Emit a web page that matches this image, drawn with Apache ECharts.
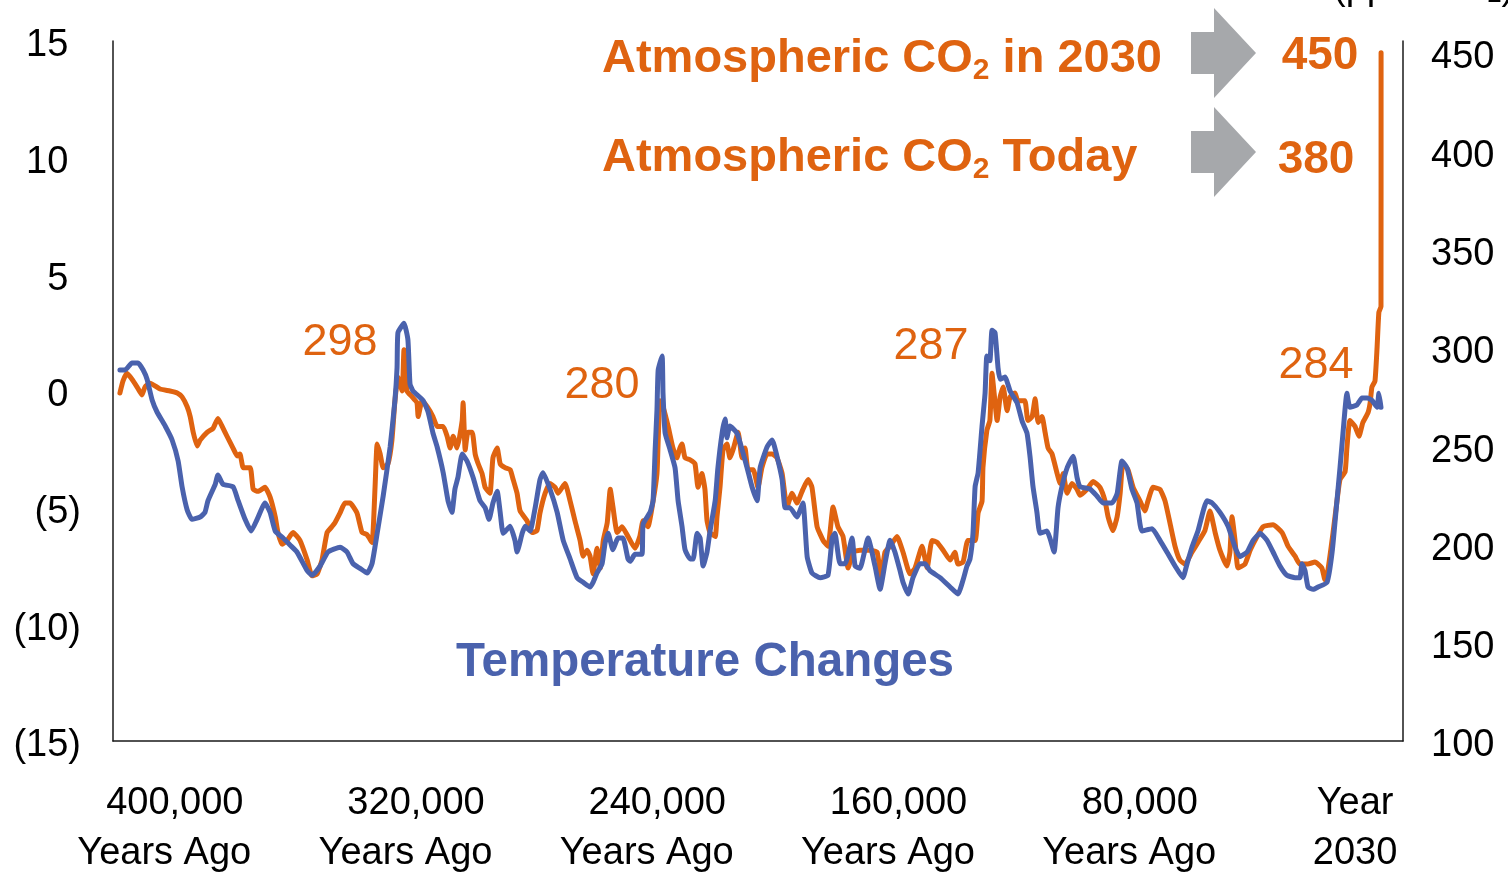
<!DOCTYPE html>
<html>
<head>
<meta charset="utf-8">
<script src="https://cdn.jsdelivr.net/npm/echarts@6/dist/echarts.min.js"></script>
<style>
html,body{margin:0;padding:0;background:#fff;}
#chart{width:1508px;height:872px;}
</style>
</head>
<body>
<div id="chart"></div>
<script>
// Temperature change (°C) — thousands of years ago
const tempAge = [418.2,416.5,414.2,412.2,410.5,409.2,407.5,405.9,403.2,400.9,398.9,397.6,395.9,394.3,391.6,390.0,389.0,386.6,385.7,384.0,380.7,379.0,376.7,374.7,372.7,370.1,368.4,366.7,364.1,361.8,359.5,356.1,354.5,351.8,349.2,345.2,342.9,340.9,338.6,336.2,334.6,332.9,330.9,328.6,327.0,326.3,326.0,324.0,322.7,322.0,321.0,317.7,316.0,314.4,313.0,311.0,309.4,308.1,307.1,306.1,304.7,303.1,301.1,298.8,297.1,295.8,294.5,293.1,292.1,291.1,288.8,287.2,286.5,284.8,283.8,282.2,280.5,278.9,277.9,275.6,273.2,271.2,268.9,266.6,264.6,262.3,261.3,260.0,258.3,257.3,256.3,254.7,253.0,251.4,249.7,249.0,247.4,245.1,244.7,242.4,241.4,240.7,240.1,239.7,238.4,238.1,237.4,235.8,234.1,233.1,231.8,230.8,229.1,228.1,226.8,225.8,224.8,223.5,222.5,220.8,219.9,218.5,217.5,216.9,215.9,213.6,211.9,210.2,208.6,206.9,205.9,203.6,201.9,200.3,198.6,197.6,196.0,193.7,191.7,190.3,188.7,186.0,183.4,182.0,181.1,179.4,177.7,175.4,174.4,172.8,170.1,167.8,166.1,164.5,162.8,161.2,159.5,158.5,156.8,155.2,152.9,151.2,149.6,146.2,142.9,140.3,138.6,137.3,136.3,135.3,134.6,133.6,132.3,131.3,130.7,129.7,129.0,128.0,127.0,126.3,124.7,123.0,120.7,119.0,117.4,116.4,115.4,114.1,113.1,110.8,109.8,108.4,107.1,105.8,104.1,102.1,100.8,99.8,96.5,94.2,92.2,89.2,87.5,85.9,84.2,82.6,80.9,79.3,75.9,73.3,71.0,68.3,65.7,64.3,62.7,60.7,57.7,56.0,53.4,50.7,48.4,46.8,44.4,42.4,40.1,37.8,35.8,33.5,31.2,28.5,26.9,26.2,25.2,24.2,22.5,20.9,17.9,16.2,14.6,13.6,12.6,11.3,10.3,8.0,6.3,4.6,3.0,1.3,0.7,0.0];
const tempVal = [0.9,0.9,1.2,1.2,0.9,0.5,-0.4,-0.9,-1.5,-2.1,-3.0,-4.1,-5.1,-5.5,-5.4,-5.2,-4.7,-4.0,-3.6,-4.0,-4.1,-4.7,-5.5,-6.0,-5.5,-4.8,-5.2,-6.0,-6.3,-6.6,-6.9,-7.7,-7.9,-7.5,-6.9,-6.7,-6.9,-7.4,-7.6,-7.8,-7.4,-6.1,-4.5,-2.4,-0.4,1.0,2.5,2.9,2.2,0.3,0.0,-0.4,-0.9,-1.8,-2.4,-3.5,-4.7,-5.2,-4.2,-3.7,-2.7,-3.0,-3.7,-4.7,-5.0,-5.5,-4.8,-4.3,-5.2,-6.1,-5.8,-6.4,-6.9,-6.1,-5.8,-6.0,-5.0,-3.8,-3.5,-4.2,-5.2,-6.4,-7.2,-8.0,-8.2,-8.4,-8.2,-7.8,-7.4,-6.5,-6.1,-6.8,-6.3,-6.3,-7.2,-7.3,-7.0,-7.0,-5.7,-5.2,-4.7,-2.5,-0.8,0.9,1.5,-0.1,-1.8,-2.5,-3.3,-4.7,-5.8,-6.8,-7.2,-7.2,-6.1,-6.3,-7.5,-6.9,-6.0,-4.7,-3.3,-1.8,-1.2,-2.0,-1.5,-1.8,-2.5,-3.3,-4.1,-4.7,-3.3,-2.4,-2.1,-2.8,-3.8,-5.0,-5.0,-5.4,-4.8,-7.1,-7.8,-8.0,-7.9,-6.3,-6.1,-7.4,-7.4,-6.3,-7.5,-7.6,-6.3,-7.5,-8.5,-7.4,-6.4,-6.9,-7.7,-8.2,-8.7,-8.0,-7.4,-7.4,-7.7,-8.0,-8.4,-8.7,-8.1,-7.5,-7.2,-6.1,-4.1,-3.5,-1.5,-0.1,1.5,1.3,2.6,2.5,1.0,0.5,0.6,0.0,-0.5,-1.3,-1.8,-2.8,-4.1,-5.2,-6.1,-6.0,-6.3,-6.9,-5.0,-4.1,-3.3,-2.8,-3.7,-4.1,-4.2,-4.5,-4.8,-4.8,-4.4,-3.0,-3.3,-4.2,-4.8,-6.0,-5.9,-6.4,-6.9,-7.5,-8.0,-7.4,-6.7,-6.0,-4.7,-4.8,-5.2,-5.8,-6.7,-7.1,-6.9,-6.4,-6.1,-6.4,-6.9,-7.5,-7.9,-8.0,-8.0,-7.4,-7.7,-8.4,-8.5,-8.4,-8.2,-6.9,-4.7,-3.3,-1.8,-0.1,-0.7,-0.6,-0.3,-0.3,-0.4,-0.7,-0.1,-0.7];

// Atmospheric CO2 (ppm) — thousands of years ago (last point = year 2030)
const co2Age = [418.2,417.2,415.9,414.2,412.5,410.9,409.9,408.2,404.9,401.6,399.2,397.6,395.9,394.9,393.9,392.6,391.6,389.3,387.3,385.7,384.3,382.7,380.7,379.3,378.4,377.3,375.0,374.0,372.4,370.1,368.4,366.7,365.8,364.4,362.8,360.8,358.5,356.1,354.5,352.8,351.2,349.5,347.9,346.9,345.2,343.6,341.9,339.6,337.9,336.3,334.6,333.6,332.9,331.9,330.9,329.3,328.0,327.0,326.0,324.6,324.0,323.0,321.3,319.7,319.3,318.0,316.3,314.4,313.0,311.0,309.7,308.7,307.7,306.4,304.7,304.4,303.7,302.8,301.4,300.4,299.4,298.1,297.1,295.5,294.5,293.1,292.1,290.5,288.8,287.8,286.5,285.5,283.2,281.5,279.9,278.9,277.2,275.6,273.9,272.9,270.6,268.9,267.3,265.6,264.6,263.3,262.3,261.3,260.0,258.9,257.9,256.6,255.6,254.7,253.3,251.7,249.7,247.4,245.8,244.7,243.1,241.4,240.1,239.7,239.1,238.1,236.4,234.8,233.5,232.5,231.8,230.8,229.1,227.5,226.5,225.2,224.2,223.5,222.5,220.8,220.2,219.2,218.2,216.9,215.9,214.9,213.2,211.9,210.9,209.9,208.2,206.6,205.3,203.6,201.9,200.3,198.6,197.0,195.3,193.7,191.7,190.0,188.7,187.0,185.0,183.4,181.7,180.1,178.4,176.7,175.1,172.8,169.5,167.1,165.8,164.5,162.8,160.5,158.5,156.2,154.5,152.2,150.5,148.9,147.2,145.2,142.9,141.3,140.3,138.6,137.0,134.6,133.6,132.3,132.0,130.7,129.7,129.0,128.3,127.3,126.3,125.3,124.0,123.0,121.4,120.4,118.1,117.1,115.7,114.7,113.7,112.4,111.4,110.4,109.1,107.4,106.4,105.4,104.1,102.5,100.8,99.8,97.5,95.5,93.2,91.5,90.5,88.9,87.5,86.5,85.6,83.9,82.2,79.9,78.3,77.3,75.6,73.3,71.6,70.0,68.3,66.7,65.0,62.7,60.7,58.4,56.7,55.0,53.4,51.1,50.1,49.4,48.4,47.4,45.1,43.4,41.1,39.1,35.8,32.8,30.8,28.5,26.9,24.3,21.9,19.6,18.6,17.6,15.9,14.6,13.6,11.9,11.3,10.3,8.6,7.3,6.0,4.3,3.6,3.0,2.0,1.3,0.7,0.0,-0.03];
const co2Val = [277,283,287,284,280,276,280,282,279,278,277,275,270,265,257,250,253,257,259,264,260,255,249,245,246,239,239,228,227,229,224,214,206,200,202,206,202,192,184,185,192,206,209,211,216,221,221,216,206,205,201,229,251,246,239,241,253,273,285,278,299,278,275,272,265,273,270,265,260,260,255,249,255,249,263,272,248,257,257,246,241,236,229,226,244,249,241,239,238,233,226,217,212,206,207,216,226,231,229,226,231,222,212,202,194,197,194,185,198,188,202,211,228,219,206,209,204,198,204,212,209,222,236,253,273,270,260,249,244,249,251,244,243,241,229,236,228,212,206,204,214,229,248,251,244,248,257,244,249,238,238,229,239,246,246,244,236,219,226,221,228,233,229,209,202,199,219,209,204,188,196,197,197,196,183,196,199,204,196,185,188,199,188,202,201,197,192,196,190,191,202,202,216,222,239,258,263,287,277,263,275,280,268,275,277,273,273,263,265,274,262,265,257,249,246,236,231,236,226,231,228,225,228,232,229,222,214,207,214,226,241,238,229,222,217,222,229,228,222,211,199,192,190,196,201,207,217,206,197,189,196,214,202,188,190,197,204,209,210,206,199,194,190,190,191,188,182,187,206,222,233,237,249,263,260,255,262,267,272,280,283,300,318,321,450];

const xLabelValues = [400, 320, 240, 160, 80, 8.6];
const xLabelTexts = ['400,000\nYears Ago  ', '320,000\nYears Ago  ', '240,000\nYears Ago  ', '160,000\nYears Ago  ', '80,000\nYears Ago  ', 'Year\n2030'];

const ORANGE = '#DF6310';
const BLUE = '#4A62AD';
const FONT = '"Liberation Sans", Arial, sans-serif';

const tempData = tempAge.map((a, i) => [a, tempVal[i]]);
const co2Data = co2Age.map((a, i) => [a, co2Val[i]]);

const chart = echarts.init(document.getElementById('chart'), null, {renderer: 'canvas'});

function arrow(x0, yc) {
  // decorative block arrow: shaft + head
  return [[x0, yc - 21], [x0 + 23, yc - 21], [x0 + 23, yc - 45], [x0 + 65, yc], [x0 + 23, yc + 45], [x0 + 23, yc + 21], [x0, yc + 21]];
}

const subRich = {
  a: {fontSize: 47, fontWeight: 'bold', fontFamily: FONT, fill: ORANGE, lineHeight: 54},
  s: {fontSize: 30, fontWeight: 'bold', fontFamily: FONT, fill: ORANGE, lineHeight: 30, verticalAlign: 'bottom'}
};

const option = {
  animation: false,
  backgroundColor: '#fff',
  textStyle: {fontFamily: FONT},
  grid: {left: 113, right: 105, top: 41, bottom: 131, containLabel: false, outerBoundsMode: 'none'},
  xAxis: {
    type: 'value',
    inverse: true,
    min: -7.3,
    max: 420.5,
    splitLine: {show: false},
    axisTick: {show: false},
    axisLine: {show: true, onZero: false, lineStyle: {color: '#1a1a1a', width: 1.5}},
    axisLabel: {
      customValues: xLabelValues,
      formatter: function (v) {
        const i = xLabelValues.indexOf(v);
        return i >= 0 ? xLabelTexts[i] : '';
      },
      fontFamily: FONT, fontSize: 38, color: '#000', lineHeight: 50, margin: 38
    }
  },
  yAxis: [{
    type: 'value', min: -15, max: 15, interval: 5, position: 'left',
    splitLine: {show: false}, axisTick: {show: false},
    axisLine: {show: true, onZero: false, lineStyle: {color: '#1a1a1a', width: 1.5}},
    axisLabel: {
      margin: 32, fontFamily: FONT, fontSize: 38, color: '#000', padding: [10, 0, 0, 0],
      formatter: function (v) {
        if (v < 0) return '(' + (-v) + ')';
        return v + '{h|)}';
      },
      rich: {h: {fontFamily: FONT, fontSize: 38, color: 'rgba(0,0,0,0)'}}
    }
  }, {
    type: 'value', min: 100, max: 456, interval: 50, position: 'right',
    splitLine: {show: false}, axisTick: {show: false},
    axisLine: {show: true, onZero: false, lineStyle: {color: '#1a1a1a', width: 1.5}},
    axisLabel: {
      margin: 28, fontFamily: FONT, fontSize: 38, color: '#000',
      verticalAlign: 'top', lineHeight: 10,
      formatter: function (v) { return (v % 50 === 0) ? String(v) : ''; }
    }
  }],
  series: [{
    name: 'CO2', type: 'line', yAxisIndex: 1, data: co2Data,
    showSymbol: false, symbol: 'none', smooth: 0.15,
    lineStyle: {color: ORANGE, width: 5, join: 'round', cap: 'round'},
    z: 2
  }, {
    name: 'Temperature', type: 'line', yAxisIndex: 0, data: tempData,
    showSymbol: false, symbol: 'none', smooth: 0.15,
    lineStyle: {color: BLUE, width: 5, join: 'round', cap: 'round'},
    z: 3
  }],
  graphic: [
    {type: 'text', left: 1333, top: -30, silent: true,
      style: {text: '(ppm CO{s|2})', font: '38px ' + FONT, fill: '#000',
        rich: {s: {fontSize: 26, fontFamily: FONT, fill: '#000', verticalAlign: 'bottom', lineHeight: 20}}}},
    {type: 'polygon', silent: true, shape: {points: arrow(1191, 53)}, style: {fill: '#A6A8AB'}},
    {type: 'polygon', silent: true, shape: {points: arrow(1191, 152)}, style: {fill: '#A6A8AB'}},
    {type: 'text', x: 602, y: 59, silent: true,
      style: {text: '{a|Atmospheric CO}{s|2}{a| in 2030}', textAlign: 'left', textVerticalAlign: 'middle', rich: subRich}},
    {type: 'text', x: 602, y: 158, silent: true,
      style: {text: '{a|Atmospheric CO}{s|2}{a| Today}', textAlign: 'left', textVerticalAlign: 'middle', rich: subRich}},
    {type: 'text', x: 1320, y: 56, silent: true,
      style: {text: '450', font: 'bold 46px ' + FONT, fill: ORANGE, textAlign: 'center', textVerticalAlign: 'middle'}},
    {type: 'text', x: 1316, y: 160, silent: true,
      style: {text: '380', font: 'bold 46px ' + FONT, fill: ORANGE, textAlign: 'center', textVerticalAlign: 'middle'}},
    {type: 'text', x: 340, y: 343, silent: true,
      style: {text: '298', font: '45px ' + FONT, fill: ORANGE, textAlign: 'center', textVerticalAlign: 'middle'}},
    {type: 'text', x: 602, y: 386, silent: true,
      style: {text: '280', font: '45px ' + FONT, fill: ORANGE, textAlign: 'center', textVerticalAlign: 'middle'}},
    {type: 'text', x: 931, y: 347, silent: true,
      style: {text: '287', font: '45px ' + FONT, fill: ORANGE, textAlign: 'center', textVerticalAlign: 'middle'}},
    {type: 'text', x: 1316, y: 366, silent: true,
      style: {text: '284', font: '45px ' + FONT, fill: ORANGE, textAlign: 'center', textVerticalAlign: 'middle'}},
    {type: 'text', x: 705, y: 663, silent: true,
      style: {text: 'Temperature Changes', font: 'bold 47.5px ' + FONT, fill: BLUE, textAlign: 'center', textVerticalAlign: 'middle'}}
  ]
};
chart.setOption(option);
</script>
</body>
</html>
